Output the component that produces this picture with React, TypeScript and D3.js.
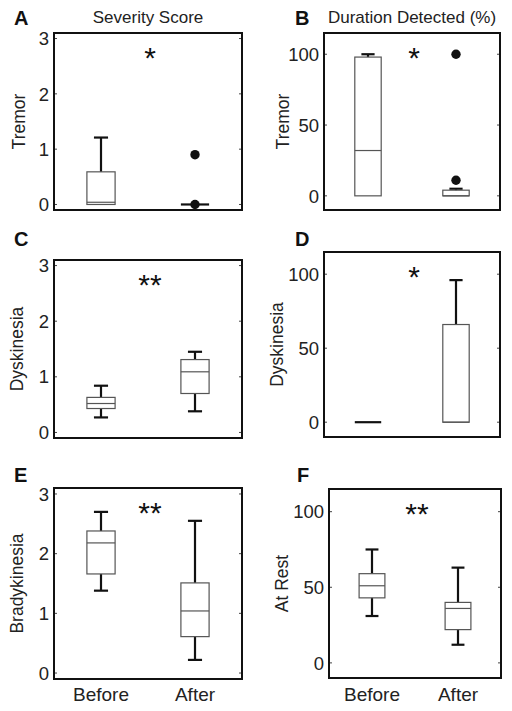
import React from "react";
import * as d3 from "d3";

// ---------- data ----------
const categories = ["Before", "After"];
const severityTicks = [0, 1, 2, 3];
const durationTicks = [0, 50, 100];
const severityDomain = [-0.1, 3.1];
const durationDomain = [-10, 115];

type Box = { min: number; q1: number; med: number; q3: number; max: number; outliers: number[] };

// Tremor severity score (A)
const tremorSeverity: Box[] = [
  { min: 0, q1: 0, med: 0.04, q3: 0.59, max: 1.21, outliers: [] },
  { min: 0, q1: 0, med: 0, q3: 0, max: 0, outliers: [0.9, 0] },
];
// Tremor duration detected % (B)
const tremorDuration: Box[] = [
  { min: 0, q1: 0, med: 32, q3: 98, max: 100, outliers: [] },
  { min: 0, q1: 0, med: 0, q3: 4, max: 5, outliers: [11, 100] },
];
// Dyskinesia severity score (C)
const dyskinesiaSeverity: Box[] = [
  { min: 0.27, q1: 0.43, med: 0.52, q3: 0.63, max: 0.84, outliers: [] },
  { min: 0.38, q1: 0.7, med: 1.09, q3: 1.31, max: 1.45, outliers: [] },
];
// Dyskinesia duration detected % (D)
const dyskinesiaDuration: Box[] = [
  { min: 0, q1: 0, med: 0, q3: 0, max: 0, outliers: [] },
  { min: 0, q1: 0, med: 0, q3: 66, max: 96, outliers: [] },
];
// Bradykinesia severity score (E)
const bradykinesiaSeverity: Box[] = [
  { min: 1.38, q1: 1.66, med: 2.18, q3: 2.38, max: 2.7, outliers: [] },
  { min: 0.22, q1: 0.61, med: 1.04, q3: 1.51, max: 2.55, outliers: [] },
];
// At rest duration detected % (F)
const atRestDuration: Box[] = [
  { min: 31, q1: 43, med: 51, q3: 59, max: 75, outliers: [] },
  { min: 12, q1: 22, med: 36, q3: 40, max: 63, outliers: [] },
];

const columnTitles = ["Severity Score", "Duration Detected (%)"];
const significance = ["*", "*", "**", "*", "**", "**"];
const rowLabels = ["Tremor", "Tremor", "Dyskinesia", "Dyskinesia", "Bradykinesia", "At Rest"];
const panelLetters = ["A", "B", "C", "D", "E", "F"];

// ---------- layout ----------
const FONT = "'Liberation Sans', Arial, Helvetica, sans-serif";

const panels = [
  { box: tremorSeverity, ticks: severityTicks, domain: severityDomain, x0: 54, x1: 242, y0: 33, y1: 210, lx: 14, ly: 25, yl: 25, title: 0, xlab: false },
  { box: tremorDuration, ticks: durationTicks, domain: durationDomain, x0: 324, x1: 500, y0: 33, y1: 210, lx: 295, ly: 25, yl: 289, title: 1, xlab: false },
  { box: dyskinesiaSeverity, ticks: severityTicks, domain: severityDomain, x0: 54, x1: 242, y0: 260, y1: 438, lx: 14, ly: 246, yl: 22.5, title: -1, xlab: false },
  { box: dyskinesiaDuration, ticks: durationTicks, domain: durationDomain, x0: 324, x1: 500, y0: 252, y1: 437, lx: 295, ly: 246, yl: 283, title: -1, xlab: false },
  { box: bradykinesiaSeverity, ticks: severityTicks, domain: severityDomain, x0: 54, x1: 242, y0: 488, y1: 679, lx: 14, ly: 482, yl: 22.5, title: -1, xlab: true },
  { box: atRestDuration, ticks: durationTicks, domain: durationDomain, x0: 329, x1: 501, y0: 489, y1: 678, lx: 297, ly: 482, yl: 288, title: -1, xlab: true },
];

function Panel({ p, i }: { p: (typeof panels)[number]; i: number }) {
  const x = d3.scaleLinear().domain([0.5, 2.5]).range([p.x0, p.x1]);
  const y = d3.scaleLinear().domain(p.domain).range([p.y1, p.y0]);
  const unit = x(1) - x(0);
  const bw = unit * 0.3;
  const cw = unit * 0.15;
  const cx = (p.x0 + p.x1) / 2;
  const cy = (p.y0 + p.y1) / 2;
  const boxGray = "#555";
  return (
    <g>
      {/* panel letter */}
      <text x={p.lx} y={p.ly} fontFamily={FONT} fontWeight="bold" fontSize={20} fill="#111">
        {panelLetters[i]}
      </text>
      {p.title >= 0 && (
        <text x={cx} y={23} textAnchor="middle" fontFamily={FONT} fontSize={17} fill="#222">
          {columnTitles[p.title]}
        </text>
      )}
      {/* y label */}
      <text
        transform={`translate(${p.yl},${cy}) rotate(-90)`}
        textAnchor="middle"
        fontFamily={FONT}
        fontSize={17.5}
        fill="#222"
      >
        {rowLabels[i]}
      </text>
      {/* ticks */}
      {p.ticks.map((t) => (
        <g key={t}>
          <line x1={p.x0} x2={p.x0 + 3} y1={y(t)} y2={y(t)} stroke="#444" strokeWidth={1} />
          <line x1={p.x1} x2={p.x1 - 3} y1={y(t)} y2={y(t)} stroke="#444" strokeWidth={1} />
          <text x={p.x0 - 5} y={y(t)} dy="0.36em" textAnchor="end" fontFamily={FONT} fontSize={18.5} fill="#222">
            {t}
          </text>
        </g>
      ))}
      {/* boxes */}
      {p.box.map((b, k) => {
        const xc = x(k + 1);
        const collapsed = b.q1 === b.q3;
        return (
          <g key={k}>
            {b.max > b.q3 && (
              <>
                <line x1={xc} x2={xc} y1={y(b.q3)} y2={y(b.max)} stroke="#111" strokeWidth={2.2} />
                <line x1={xc - cw / 2} x2={xc + cw / 2} y1={y(b.max)} y2={y(b.max)} stroke="#111" strokeWidth={2.2} />
              </>
            )}
            {b.min < b.q1 && (
              <>
                <line x1={xc} x2={xc} y1={y(b.q1)} y2={y(b.min)} stroke="#111" strokeWidth={2.2} />
                <line x1={xc - cw / 2} x2={xc + cw / 2} y1={y(b.min)} y2={y(b.min)} stroke="#111" strokeWidth={2.2} />
              </>
            )}
            {collapsed ? (
              <line x1={xc - bw / 2} x2={xc + bw / 2} y1={y(b.q1)} y2={y(b.q1)} stroke="#111" strokeWidth={2.2} />
            ) : (
              <>
                <rect
                  x={xc - bw / 2}
                  y={y(b.q3)}
                  width={bw}
                  height={y(b.q1) - y(b.q3)}
                  fill="none"
                  stroke={boxGray}
                  strokeWidth={1.2}
                />
                <line x1={xc - bw / 2} x2={xc + bw / 2} y1={y(b.med)} y2={y(b.med)} stroke={boxGray} strokeWidth={1.2} />
              </>
            )}
            {b.outliers.map((o, j) => (
              <circle key={j} cx={xc} cy={y(o)} r={4.7} fill="#111" />
            ))}
          </g>
        );
      })}
      {/* significance */}
      <text x={cx + 2} y={p.y0 + 35} textAnchor="middle" fontFamily={FONT} fontSize={30} fill="#111">
        {significance[i]}
      </text>
      {/* frame */}
      <rect x={p.x0} y={p.y0} width={p.x1 - p.x0} height={p.y1 - p.y0} fill="none" stroke="#111" strokeWidth={2} />
      {/* category labels */}
      {p.xlab &&
        categories.map((c, k) => (
          <text key={c} x={x(k + 1)} y={701} textAnchor="middle" fontFamily={FONT} fontSize={19} fill="#222">
            {c}
          </text>
        ))}
    </g>
  );
}

export default function App() {
  return (
    <svg
      width={512}
      height={711}
      viewBox="0 0 512 711"
      style={{ position: "absolute", left: 0, top: 0, background: "#fff" }}
    >
      <rect x={0} y={0} width={512} height={711} fill="#fff" />
      {panels.map((p, i) => (
        <Panel key={i} p={p} i={i} />
      ))}
    </svg>
  );
}
